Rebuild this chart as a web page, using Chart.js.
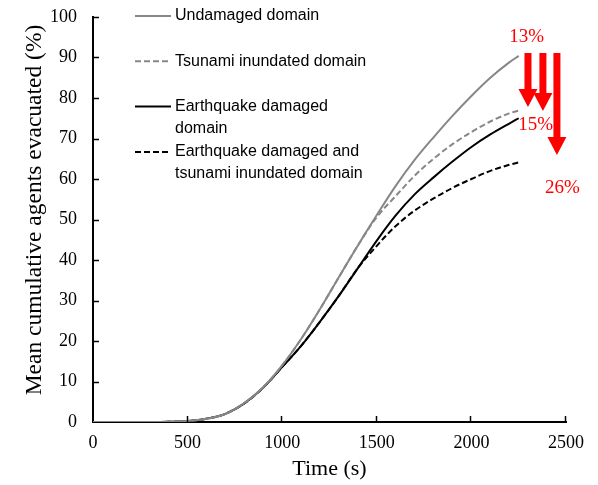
<!DOCTYPE html>
<html>
<head>
<meta charset="utf-8">
<script src="https://cdn.jsdelivr.net/npm/chart.js@4.4.1/dist/chart.umd.min.js"></script>
<style>
  html, body { margin: 0; padding: 0; background: #fff; }
</style>
</head>
<body>
<canvas id="chart" width="598" height="485"></canvas>
<script>
// time axis (s)
const timeSec = [0, 100, 200, 300, 400, 500, 600, 700, 800, 900, 1000, 1100, 1200,
  1300, 1400, 1500, 1600, 1700, 1800, 1900, 2000, 2100, 2200, 2250];

// mean cumulative agents evacuated (%)
const undamaged = [0, 0, 0, 0, 0.05, 0.25, 0.8, 2.0, 4.7, 8.6, 14.0, 20.5, 27.9,
  35.8, 43.6, 51.1, 58.3, 64.7, 70.3, 75.6, 80.5, 85.0, 88.8, 90.4];
const tsunami = [0, 0, 0, 0, 0.05, 0.25, 0.8, 2.0, 4.7, 8.6, 14.0, 20.5, 27.9,
  35.8, 43.6, 50.6, 55.8, 60.8, 65.0, 68.6, 71.6, 74.2, 76.2, 76.9];
const earthquake = [0, 0, 0, 0, 0.05, 0.25, 0.8, 2.0, 4.6, 8.5, 13.6, 18.8, 24.8,
  31.2, 38.0, 44.8, 51.0, 56.2, 60.4, 64.3, 67.9, 71.0, 73.7, 75.0];
const combined = [0, 0, 0, 0, 0.05, 0.25, 0.8, 2.0, 4.6, 8.5, 13.6, 18.8, 24.8,
  31.2, 38.0, 43.5, 48.4, 52.2, 55.2, 57.8, 60.0, 62.0, 63.5, 64.1];

const seriesNames = [
  ["Undamaged domain"],
  ["Tsunami inundated domain"],
  ["Earthquake damaged", "domain"],
  ["Earthquake damaged and", "tsunami inundated domain"],
];

// reduction arrows (%) and their labels
const reductionLabels = ["13%", "15%", "26%"];
const arrowFrom = [91.1, 91.1, 91.1];
const arrowTo = [77.8, 76.8, 65.9];

const GRAY = "#878787";
const SERIF = "'Liberation Serif', 'Times New Roman', serif";
const SANS = "'Liberation Sans', Arial, sans-serif";

Chart.defaults.font.family = SERIF;
Chart.defaults.font.size = 18;
Chart.defaults.color = "#000";

function pts(ys) {
  return ys.map((v, i) => ({ x: timeSec[i], y: v }));
}

const lineStyles = [
  { color: GRAY, dash: [] },
  { color: GRAY, dash: [6, 3] },
  { color: "#000", dash: [] },
  { color: "#000", dash: [6, 3] },
];

const overlay = {
  id: "overlay",
  afterDraw(chart) {
    const { ctx, chartArea, scales: { x, y } } = chart;
    ctx.save();

    // inward tick marks
    ctx.strokeStyle = "#000";
    ctx.lineWidth = 1.5;
    for (let v = 10; v <= 100; v += 10) {
      const py = Math.round(y.getPixelForValue(v)) + 0.5;
      ctx.beginPath();
      ctx.moveTo(chartArea.left, py);
      ctx.lineTo(chartArea.left + 6, py);
      ctx.stroke();
    }
    for (let t = 500; t <= 2500; t += 500) {
      const px = Math.round(x.getPixelForValue(t)) - 0.5;
      ctx.beginPath();
      ctx.moveTo(px, chartArea.bottom);
      ctx.lineTo(px, chartArea.bottom - 6);
      ctx.stroke();
    }

    // y axis title
    ctx.save();
    ctx.translate(35, 210);
    ctx.rotate(-Math.PI / 2);
    ctx.font = "23.5px " + SERIF;
    ctx.fillStyle = "#000";
    ctx.textAlign = "center";
    ctx.textBaseline = "middle";
    ctx.fillText("Mean cumulative agents evacuated (%)", 0, 0);
    ctx.restore();

    // legend
    ctx.font = "16px " + SANS;
    ctx.textBaseline = "middle";
    ctx.textAlign = "left";
    seriesNames.forEach((lines, i) => {
      const ly = 16 + i * 45.3;
      ctx.strokeStyle = lineStyles[i].color;
      ctx.lineWidth = 2;
      ctx.setLineDash(lineStyles[i].dash);
      ctx.beginPath();
      ctx.moveTo(135, ly);
      ctx.lineTo(171, ly);
      ctx.stroke();
      ctx.setLineDash([]);
      ctx.fillStyle = "#000";
      lines.forEach((txt, k) => ctx.fillText(txt, 175, ly + k * 22));
    });

    // red arrows
    const arrowX = [2299, 2378, 2452];
    ctx.fillStyle = "#ff0000";
    arrowX.forEach((t, i) => {
      const cx = x.getPixelForValue(t);
      const top = y.getPixelForValue(arrowFrom[i]);
      const tip = y.getPixelForValue(arrowTo[i]);
      const headH = 18, shaftW = 3.5, headW = 9.5;
      ctx.beginPath();
      ctx.moveTo(cx - shaftW, top);
      ctx.lineTo(cx + shaftW, top);
      ctx.lineTo(cx + shaftW, tip - headH);
      ctx.lineTo(cx + headW, tip - headH);
      ctx.lineTo(cx, tip);
      ctx.lineTo(cx - headW, tip - headH);
      ctx.lineTo(cx - shaftW, tip - headH);
      ctx.closePath();
      ctx.fill();
    });

    // percentage labels
    const labelPos = [[2292, 95.1], [2339, 73.3], [2481, 57.8]];
    ctx.font = "19px " + SERIF;
    ctx.textAlign = "center";
    reductionLabels.forEach((txt, i) => {
      ctx.fillText(txt, x.getPixelForValue(labelPos[i][0]), y.getPixelForValue(labelPos[i][1]));
    });

    ctx.restore();
  },
};

new Chart(document.getElementById("chart"), {
  type: "line",
  data: {
    datasets: [undamaged, tsunami, earthquake, combined].map((ys, i) => ({
      label: seriesNames[i].join(" "),
      data: pts(ys),
      borderColor: lineStyles[i].color,
      borderDash: lineStyles[i].dash,
      borderWidth: 2,
      pointRadius: 0,
      fill: false,
      cubicInterpolationMode: "monotone",
    })),
  },
  options: {
    responsive: false,
    animation: false,
    layout: { padding: { top: 17, right: 32, left: 0, bottom: 0 } },
    plugins: { legend: { display: false }, tooltip: { enabled: false } },
    scales: {
      x: {
        type: "linear",
        min: 0,
        max: 2500,
        ticks: {
          stepSize: 500, padding: 10, color: "#000", maxRotation: 0,
          font: { family: SERIF, size: 18 },
          callback: (v) => String(v),
        },
        grid: { drawOnChartArea: false, drawTicks: false },
        border: { color: "#000", width: 2 },
        title: { display: true, text: "Time (s)", color: "#000", font: { family: SERIF, size: 22 }, padding: { top: 0, bottom: 3 } },
        afterFit(s) { s.height = 63; s.paddingLeft = 0; s.paddingRight = 0; },
      },
      y: {
        min: 0,
        max: 100,
        ticks: {
          stepSize: 10, padding: 16, color: "#000",
          font: { family: SERIF, size: 18 },
          callback: (v) => String(v),
        },
        grid: { drawOnChartArea: false, drawTicks: false },
        border: { color: "#000", width: 2 },
        afterFit(s) { s.width = 93; s.paddingTop = 0; s.paddingBottom = 0; },
      },
    },
  },
  plugins: [overlay],
});
</script>
</body>
</html>
